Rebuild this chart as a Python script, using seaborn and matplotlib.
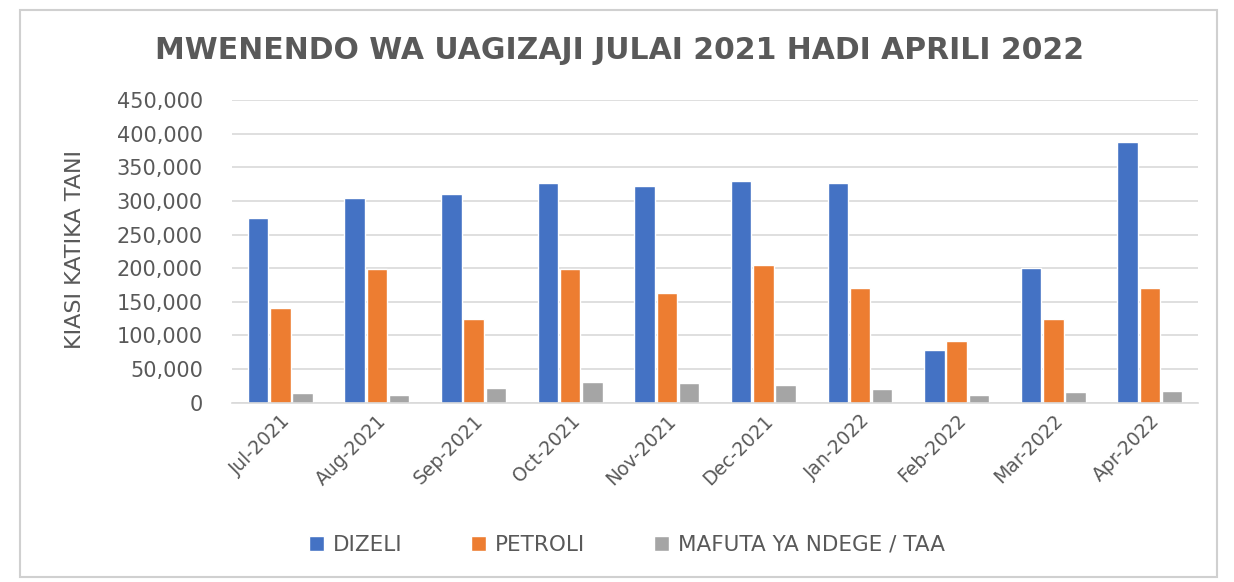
"""Mwenendo wa uagizaji wa mafuta, Julai 2021 hadi Aprili 2022."""

import matplotlib.pyplot as plt
import numpy as np
import pandas as pd
import seaborn as sns
from matplotlib.patches import Rectangle
from matplotlib.ticker import FuncFormatter, MultipleLocator


MONTHS = [
    "Jul-2021", "Aug-2021", "Sep-2021", "Oct-2021", "Nov-2021",
    "Dec-2021", "Jan-2022", "Feb-2022", "Mar-2022", "Apr-2022",
]
DIZELI = [275000, 304000, 311000, 326000, 322000, 330000, 326000, 79000, 201000, 388000]
PETROLI = [141000, 199000, 125000, 199000, 163000, 205000, 170000, 92000, 125000, 170000]
MAFUTA_NDEGE = [15000, 12000, 22000, 31000, 30000, 26000, 20000, 11000, 16000, 18000]
SERIES = ["DIZELI", "PETROLI", "MAFUTA YA NDEGE / TAA"]
COLORS = ["#4472C4", "#ED7D31", "#A5A5A5"]
TEXT_GREY = "#595959"


def build_frame() -> pd.DataFrame:
    frames = []
    for name, values in zip(SERIES, (DIZELI, PETROLI, MAFUTA_NDEGE)):
        frames.append(pd.DataFrame({"month": MONTHS, "fuel": name, "tani": values}))
    return pd.concat(frames, ignore_index=True)


def main() -> None:
    sns.set_style("white")
    plt.rcParams["font.family"] = ["DejaVu Sans"]

    data = build_frame()
    fig = plt.figure(figsize=(12.34, 5.82), dpi=100)
    ax = fig.add_axes([0.188, 0.308, 0.783, 0.52])

    sns.barplot(
        data=data, x="month", y="tani", hue="fuel",
        hue_order=SERIES, palette=COLORS, order=MONTHS,
        width=0.69, gap=0.08, saturation=1, ax=ax,
    )

    ax.set_ylim(0, 450000)
    ax.yaxis.set_major_locator(MultipleLocator(50000))
    ax.yaxis.set_major_formatter(FuncFormatter(lambda v, _: f"{int(v):,}"))
    ax.grid(axis="y", color="#D9D9D9", linewidth=1.2)
    ax.set_axisbelow(True)
    for side in ("top", "right", "left"):
        ax.spines[side].set_visible(False)
    ax.spines["bottom"].set_color("#D9D9D9")
    ax.spines["bottom"].set_linewidth(1.2)

    ax.set_xlim(-0.5, len(MONTHS) - 0.5)
    ax.set_xticks(np.arange(-0.5, len(MONTHS)), minor=True)
    ax.tick_params(axis="x", which="minor", length=5, color="#D9D9D9")
    ax.tick_params(axis="x", which="major", length=0, pad=6)
    ax.tick_params(axis="y", length=0, pad=21)
    plt.setp(ax.get_xticklabels(), rotation=45, ha="right",
             rotation_mode="anchor", fontsize=13.5, color=TEXT_GREY)
    plt.setp(ax.get_yticklabels(), fontsize=15, color=TEXT_GREY)

    ax.set_xlabel("")
    ax.set_ylabel("KIASI KATIKA TANI", fontsize=16, color=TEXT_GREY)
    ax.yaxis.set_label_coords(-0.152, 0.505)
    fig.text(0.502, 0.914, "MWENENDO WA UAGIZAJI JULAI 2021 HADI APRILI 2022",
             ha="center", va="center", fontsize=21.5, fontweight="bold", color=TEXT_GREY)

    handles, labels = ax.get_legend_handles_labels()
    ax.legend(
        handles, labels, loc="center", bbox_to_anchor=(0.508, 0.064),
        bbox_transform=fig.transFigure, ncol=3, frameon=False,
        fontsize=15.5, labelcolor=TEXT_GREY, handlelength=0.7, handleheight=0.7,
        handletextpad=0.4, columnspacing=3.2,
    )

    fig.patches.append(Rectangle((0.016, 0.008), 0.970, 0.975, transform=fig.transFigure,
                                 fill=False, edgecolor="#D0D0D0", linewidth=1.5))
    fig.savefig("out.png", dpi=100)
    plt.close(fig)


if __name__ == "__main__":
    main()
